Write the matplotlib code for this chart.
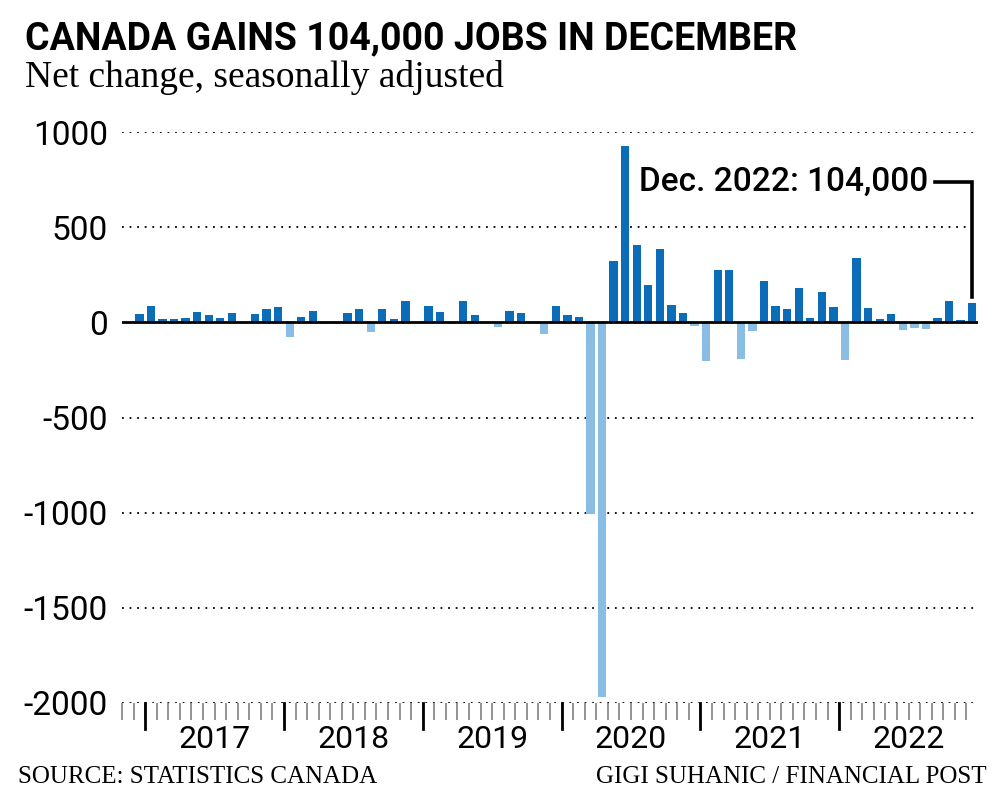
import numpy as np
import matplotlib.pyplot as plt
import pandas as pd

# Net monthly change in employment (thousands), Nov 2016 - Dec 2022
months = pd.period_range('2016-11', '2022-12', freq='M')
jobs = [0, 42, 86, 16, 19, 21, 56, 37, 25, 47, 0, 42, 70, 79,
        -77, 26, 61, -10, -7, 49, 68, -51, 70, 16, 112, 0,
        84, 56, -10, 112, 37, -3, -26, 61, 51, -3, -60, 84,
        37, 28, -1005, -1970, 322, 925, 404, 194, 386, 93, 51, -19,
        -203, 273, 277, -195, -47, 215, 84, 68, 178, 23, 157, 80,
        -197, 338, 75, 16, 42, -42, -28, -37, 25, 110, 12, 104]
yticks = [1000, 500, 0, -500, -1000, -1500, -2000]
years = [2017, 2018, 2019, 2020, 2021, 2022]

pos_color = '#0b6db7'
neg_color = '#89bde3'
sans = ['Roboto', 'DejaVu Sans']
serif = ['Liberation Serif', 'DejaVu Serif']

fig = plt.figure(figsize=(10, 8.06), dpi=100)
ax = fig.add_axes([0.122, 0.1278, 0.856, 0.7084])

x = np.arange(len(jobs))
vals = np.array(jobs)
colors = [pos_color if v >= 0 else neg_color for v in vals]
ax.bar(x, vals, width=0.72, color=colors, zorder=3)

ax.set_xlim(-0.5, len(jobs) - 0.5)
ax.set_ylim(-2000, 1000)

# dotted gridlines
for t in yticks:
    if t != 0:
        ax.axhline(t, color='black', lw=1.3, ls=(0, (1, 3.2)), zorder=1)
ax.axhline(0, color='black', lw=2, zorder=4)

ax.set_yticks(yticks)
ax.set_yticklabels([str(t) for t in yticks], family=sans, fontsize=24)
ax.tick_params(axis='y', length=0, pad=10)

# month ticks at boundaries, year ticks longer
ax.set_xticks(x - 0.5, minor=True)
ax.set_xticks([])
ax.tick_params(axis='x', which='minor', length=12, width=1.1, color='#777777', direction='out')
year_start = [i for i, m in enumerate(months) if m.month == 1]
for i in year_start:
    ax.plot([i - 0.5, i - 0.5], [0, -0.045], transform=ax.get_xaxis_transform(),
            color='black', lw=2, clip_on=False)
for yr, i in zip(years, year_start):
    ax.text(i + 5.5, -0.038, str(yr), transform=ax.get_xaxis_transform(),
            ha='center', va='top', family=sans, fontsize=23)

for s in ax.spines.values():
    s.set_visible(False)

# annotation for Dec 2022
last = len(jobs) - 1
ax.text(69.2, 740, 'Dec. 2022: 104,000', ha='right', va='center',
        family=sans, fontweight='medium', fontsize=24, zorder=5)
ax.plot([69.8, last, last], [740, 740, jobs[last] + 27], color='black', lw=2.6,
        solid_joinstyle='miter', zorder=5)

fig.text(0.025, 0.975, 'CANADA GAINS 104,000 JOBS IN DECEMBER', ha='left', va='top',
         family=sans, fontweight='bold', fontsize=27)
fig.text(0.025, 0.925, 'Net change, seasonally adjusted', ha='left', va='top',
         family=serif, fontsize=27)
fig.text(0.018, 0.022, 'SOURCE: STATISTICS CANADA', ha='left', va='bottom',
         family=serif, fontsize=18)
fig.text(0.987, 0.022, 'GIGI SUHANIC / FINANCIAL POST', ha='right', va='bottom',
         family=serif, fontsize=18)

fig.savefig('out.png', dpi=100, facecolor='white')
